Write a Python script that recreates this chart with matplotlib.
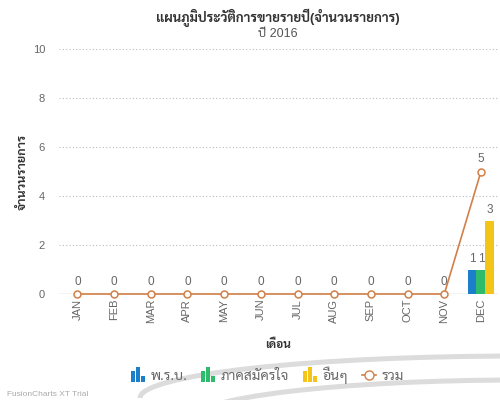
import matplotlib
matplotlib.use("Agg")
import matplotlib.pyplot as plt
import numpy as np
from matplotlib.patches import Patch, Rectangle, Arc
from matplotlib.lines import Line2D
from matplotlib.legend_handler import HandlerBase

plt.rcParams['font.family'] = ['Liberation Sans', 'Sarabun', 'DejaVu Sans']

months = ["JAN", "FEB", "MAR", "APR", "MAY", "JUN", "JUL", "AUG", "SEP", "OCT", "NOV", "DEC"]
prb = [0, 0, 0, 0, 0, 0, 0, 0, 0, 0, 0, 1]          # พ.ร.บ.
voluntary = [0, 0, 0, 0, 0, 0, 0, 0, 0, 0, 0, 1]    # ภาคสมัครใจ
other = [0, 0, 0, 0, 0, 0, 0, 0, 0, 0, 0, 3]        # อื่นๆ
total = [0, 0, 0, 0, 0, 0, 0, 0, 0, 0, 0, 5]        # รวม

c_blue = "#1b7fc9"
c_green = "#2fbb6c"
c_yellow = "#f4c419"
c_line = "#d27f48"
grey = "#666666"


class BarIcon(HandlerBase):
    # little "column chart" icon like the FusionCharts legend
    def create_artists(self, legend, orig, xd, yd, width, height, fontsize, trans):
        col = orig.get_facecolor()
        bw = width / 3.4
        arts = []
        for i, frac in enumerate([0.85, 1.25, 0.45]):
            r = Rectangle((xd + i * bw * 1.2, yd - 2), bw, height * frac, facecolor=col,
                          edgecolor="none", transform=trans)
            arts.append(r)
        return arts


fig = plt.figure(figsize=(5, 4), dpi=100)

# faint watermark rings in the background
for cx, cy, w_, h_ in [(520, 2, 760, 84), (520, -20, 660, 80)]:
    fig.patches.append(Arc((cx / 500, cy / 400), w_ / 500, h_ / 400, theta1=0, theta2=180,
                           transform=fig.transFigure, color="#dcdcdc", lw=3.6, zorder=0))

ax = fig.add_axes([0.118, 0.265, 0.877, 0.6125])
ax.patch.set_alpha(0)

x = np.arange(len(months))
w = 0.245
series = [(prb, c_blue, -w), (voluntary, c_green, 0), (other, c_yellow, w)]
for vals, col, off in series:
    bars = ax.bar(x + off, vals, width=w, color=col, zorder=3)
    for b, v in zip(bars, vals):
        if v > 0:
            ax.text(b.get_x() + b.get_width() / 2, v + 0.2, str(v), ha="center", va="bottom",
                    fontsize=8.5, color=grey)

ax.plot(x, total, color=c_line, lw=1.2, zorder=4, clip_on=False,
        marker="o", ms=5, mfc="white", mec=c_line, mew=1.1)
for xi, v in zip(x, total):
    ax.text(xi, v + 0.25, str(v), ha="center", va="bottom", fontsize=8.5, color=grey)

ax.set_ylim(0, 10)
ax.set_xlim(-0.5, 11.45)
ax.set_yticks([0, 2, 4, 6, 8, 10])
ax.set_xticks(x)
ax.set_xticklabels(months, rotation=90)
ax.tick_params(axis="both", length=0, labelsize=8, colors=grey)
ax.tick_params(axis="y", pad=10)
ax.grid(axis="y", color="#bbbbbb", ls=(0, (1, 2)), lw=0.8, zorder=0)
ax.axhline(0, color="#cccccc", lw=1, zorder=1)
for s in ax.spines.values():
    s.set_visible(False)

ax.set_ylabel("จำนวนรายการ", fontsize=9, fontweight="bold", color="#333333", labelpad=3)
ax.set_xlabel("เดือน", fontsize=8.5, fontweight="bold", color="#333333", labelpad=11)

fig.text(0.555, 0.955, "แผนภูมิประวัติการขายรายปี(จำนวนรายการ)", ha="center", va="center",
         fontsize=9.5, fontweight="bold", color="#333333")
fig.text(0.555, 0.915, "ปี 2016", ha="center", va="center", fontsize=9, color="#555555")

handles = [Patch(facecolor=c_blue), Patch(facecolor=c_green), Patch(facecolor=c_yellow),
           Line2D([0], [0], color=c_line, lw=1.2, marker="o", mfc="white", mec=c_line, ms=6.5)]
labels = ["พ.ร.บ.", "ภาคสมัครใจ", "อื่นๆ", "รวม"]
leg = fig.legend(handles, labels, loc="center", bbox_to_anchor=(0.535, 0.062), ncol=4, frameon=False,
                 fontsize=10, handlelength=1.0, handleheight=0.95, columnspacing=1.0, handletextpad=0.4,
                 handler_map={Patch: BarIcon()})
for t in leg.get_texts():
    t.set_color(grey)

fig.text(0.014, 0.013, "FusionCharts XT Trial", fontsize=6, color="#aaaaaa", ha="left", va="center")

fig.savefig("out.png", dpi=100)
